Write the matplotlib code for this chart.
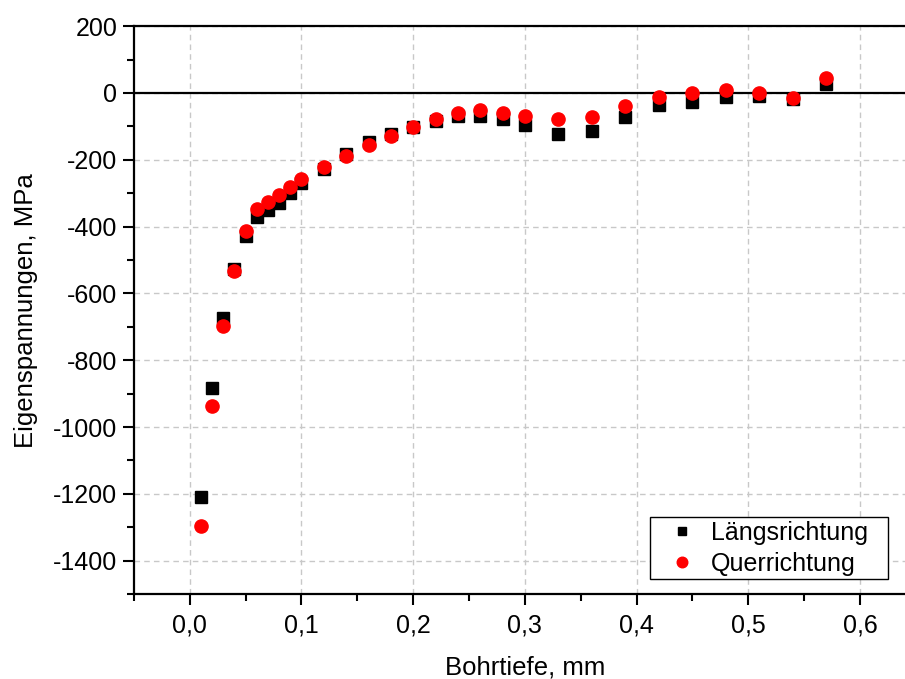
import matplotlib

matplotlib.use("Agg")
import matplotlib.pyplot as plt
from matplotlib.patches import Rectangle
from matplotlib.ticker import FuncFormatter, MultipleLocator

plt.rcParams["font.family"] = ["Liberation Sans", "DejaVu Sans"]
plt.rcParams["axes.unicode_minus"] = False

# bore depth in mm
depth = [
    0.01, 0.02, 0.03, 0.04, 0.05, 0.06, 0.07, 0.08, 0.09, 0.10,
    0.12, 0.14, 0.16, 0.18, 0.20, 0.22, 0.24, 0.26, 0.28, 0.30,
    0.33, 0.36, 0.39, 0.42, 0.45, 0.48, 0.51, 0.54, 0.57,
]
# residual stress in MPa, longitudinal direction
stress_long = [
    -1210, -884, -675, -527, -427, -372, -349, -329, -300, -270,
    -228, -183, -148, -123, -103, -84, -70, -69, -77, -97,
    -123, -115, -72, -36, -27, -12, -10, -18, 28,
]
# residual stress in MPa, transverse direction
stress_trans = [
    -1297, -937, -698, -533, -412, -347, -325, -305, -280, -258,
    -223, -188, -155, -128, -103, -79, -59, -52, -59, -69,
    -79, -72, -39, -11, -1, 9, -1, -14, 46,
]

fig = plt.figure(figsize=(9.05, 6.79), dpi=100)
ax = fig.add_axes([0.148, 0.125, 0.864, 0.8365])

ax.plot(depth, stress_long, linestyle="none", marker="s", markersize=8,
        color="black", label="Längsrichtung", zorder=3)
ax.plot(depth, stress_trans, linestyle="none", marker="o", markersize=9.5,
        color="red", markeredgecolor="red", label="Querrichtung", zorder=4)

ax.axhline(0, color="black", linewidth=1.6, zorder=2)

ax.set_xlim(-0.05, 0.65)
ax.set_ylim(-1500, 200)

ax.xaxis.set_major_locator(MultipleLocator(0.1))
ax.xaxis.set_minor_locator(MultipleLocator(0.05))
ax.yaxis.set_major_locator(MultipleLocator(200))
ax.yaxis.set_minor_locator(MultipleLocator(100))
ax.xaxis.set_major_formatter(
    FuncFormatter(lambda v, p: f"{v:.1f}".replace(".", ",").replace("-0,0", "0,0"))
)
ax.yaxis.set_major_formatter(FuncFormatter(lambda v, p: f"{v:.0f}"))

ax.tick_params(which="major", direction="out", length=8, width=1.5,
               labelsize=18, pad=4)
ax.tick_params(axis="x", which="major", pad=6)
ax.tick_params(which="minor", direction="out", length=5, width=1.5)
ax.tick_params(top=False, right=False, which="both")

for side in ["left", "bottom", "top", "right"]:
    ax.spines[side].set_linewidth(1.6)

ax.grid(True, which="major", linestyle=(0, (4, 3)), color="#c8c8c8",
        linewidth=1.0, zorder=0)
ax.set_axisbelow(True)

ax.set_xlabel("Bohrtiefe, mm", fontsize=18.5, labelpad=13)
ax.set_ylabel("Eigenspannungen, MPa", fontsize=18.5, labelpad=11)

# legend box drawn separately so it can be wider than the entries
frame = Rectangle((0.660, 0.0263), 0.304, 0.1089, transform=ax.transAxes,
                  facecolor="white", edgecolor="black", linewidth=1.0,
                  zorder=5)
ax.add_patch(frame)

leg = ax.legend(loc="lower left", bbox_to_anchor=(0.661, 0.026), fontsize=18,
                frameon=False, markerscale=0.8,
                handletextpad=0.05, borderpad=0.15, labelspacing=0.28,
                handlelength=2.2, borderaxespad=0.0)
leg.set_zorder(6)

fig.savefig("out.png", dpi=100)
